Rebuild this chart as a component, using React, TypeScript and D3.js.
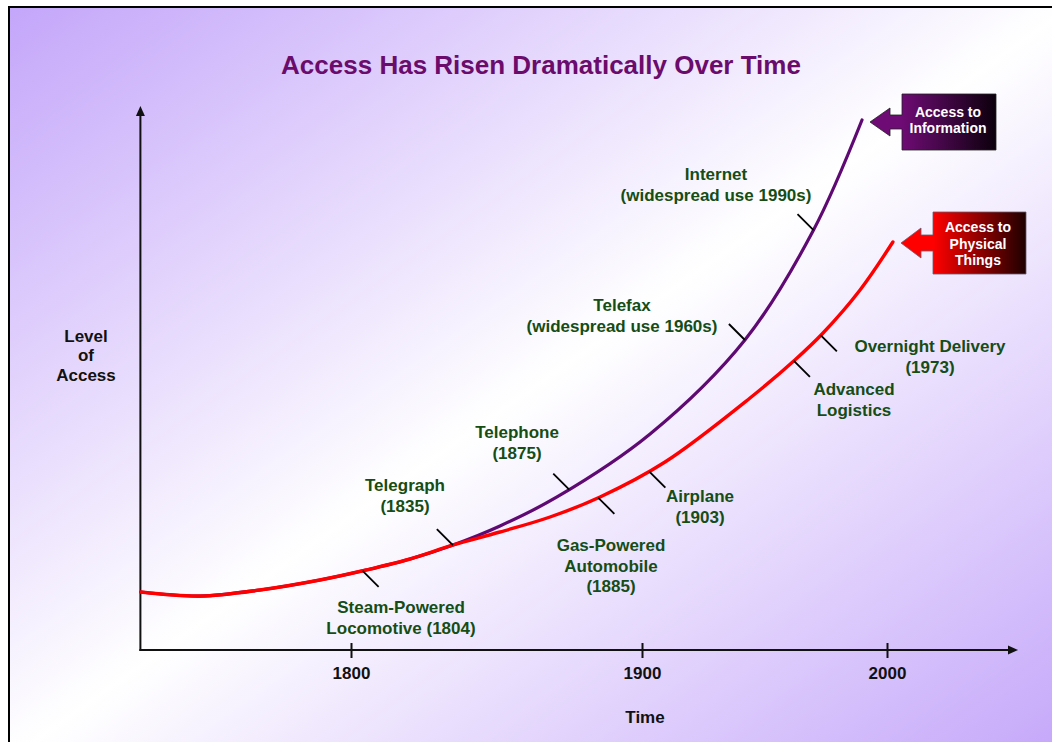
import React, { useEffect, useRef } from "react";
import * as d3 from "d3";

const W = 1052;
const H = 742;

// Early stretch shared by both curves: year and level of access (0–100)
const sharedYears = [1727.8, 1748.1, 1768.7, 1789.3, 1805.2, 1820.3, 1835.1];
const sharedLevels = [10.68, 9.94, 11.05, 12.89, 14.73, 16.76, 19.34];

// Access to information
const informationYears = [1851.2, 1870.8, 1903.3, 1942.0, 1969.8, 1989.8];
const informationLevels = [22.84, 28.18, 39.78, 57.09, 77.16, 97.61];

// Access to physical things
const physicalYears = [1851.2, 1868.4, 1885.6, 1909.4, 1944.1, 1962.4, 1973.9, 1989.0, 2002.4];
const physicalLevels = [21.73, 24.49, 28.18, 34.62, 46.41, 53.41, 58.38, 66.3, 75.14];

// Axis ticks
const tickYears = [1800, 1900, 2000];

// Milestones along the curves
const milestoneLines = [
  ["Steam-Powered", "Locomotive (1804)"],
  ["Telegraph", "(1835)"],
  ["Telephone", "(1875)"],
  ["Gas-Powered", "Automobile", "(1885)"],
  ["Airplane", "(1903)"],
  ["Advanced", "Logistics"],
  ["Overnight Delivery", "(1973)"],
  ["Telefax", "(widespread use 1960s)"],
  ["Internet", "(widespread use 1990s)"],
];
const milestoneYears = [1804, 1835, 1875, 1885, 1903, 1962, 1973, 1942, 1970];
const milestoneSeries = [
  "physical", "physical", "information", "physical", "physical",
  "physical", "physical", "information", "information",
];

// Series callouts
const calloutLines = [["Access to", "Information"], ["Access to", "Physical", "Things"]];

// Label placement: [centre x, first baseline, tick side (+1 below-right, -1 above-left)]
const milestoneLayout: [number, number, number][] = [
  [401, 613, 1],
  [405, 491, -1],
  [517, 438, -1],
  [611, 551, 1],
  [700, 502, 1],
  [854, 395, 1],
  [930, 352, 1],
  [622, 311, -1],
  [716, 180, -1],
];

const FONT = "'Liberation Sans', Arial, Helvetica, sans-serif";
const GREEN = "#154d15";
const PURPLE = "#5f0a73";
const RED = "#ff0000";

function pointAtX(path: SVGPathElement, tx: number) {
  let lo = 0;
  let hi = path.getTotalLength();
  for (let i = 0; i < 40; i++) {
    const mid = (lo + hi) / 2;
    if (path.getPointAtLength(mid).x < tx) lo = mid;
    else hi = mid;
  }
  return path.getPointAtLength((lo + hi) / 2);
}

export default function App() {
  const ref = useRef<SVGSVGElement>(null);

  useEffect(() => {
    const svg = d3.select(ref.current);
    svg.selectAll("*").remove();

    const x = d3.scaleLinear().domain([1800, 1900, 2000]).range([351, 642, 887]);
    const y = d3.scaleLinear().domain([0, 100]).range([650, 107]);

    const defs = svg.append("defs");
    const bg = defs.append("linearGradient").attr("id", "bg")
      .attr("x1", 0).attr("y1", 0).attr("x2", 1).attr("y2", 1);
    bg.append("stop").attr("offset", 0).attr("stop-color", "#c4a6fa");
    bg.append("stop").attr("offset", 0.5).attr("stop-color", "#ffffff");
    bg.append("stop").attr("offset", 1).attr("stop-color", "#c4a6fa");

    // Framed slide background
    svg.append("rect")
      .attr("x", 9).attr("y", 7).attr("width", W + 10).attr("height", H + 10)
      .attr("fill", "url(#bg)").attr("stroke", "#000").attr("stroke-width", 2);

    // Title
    svg.append("text")
      .attr("x", 541).attr("y", 74).attr("text-anchor", "middle")
      .attr("font-family", FONT).attr("font-weight", "bold").attr("font-size", 26)
      .attr("fill", "#6b0b6b")
      .text("Access Has Risen Dramatically Over Time");

    // Axes
    const x0 = x(sharedYears[0]) - 0.5;
    const axisG = svg.append("g").attr("stroke", "#111").attr("fill", "#111");
    axisG.append("line").attr("x1", x0).attr("x2", x0).attr("y1", 651).attr("y2", 112).attr("stroke-width", 2);
    axisG.append("path").attr("d", `M${x0},106L${x0 - 4.5},116L${x0 + 4.5},116Z`).attr("stroke", "none");
    axisG.append("line").attr("x1", x0 - 1).attr("x2", 1010).attr("y1", 650).attr("y2", 650).attr("stroke-width", 2);
    axisG.append("path").attr("d", `M1018,650L1008,645.5L1008,654.5Z`).attr("stroke", "none");

    const ax = svg.append("g").attr("transform", "translate(0,650)")
      .call(d3.axisBottom(x).tickValues(tickYears).tickFormat(d3.format("d")).tickSizeOuter(0));
    ax.select(".domain").remove();
    ax.selectAll(".tick line").attr("y1", -7).attr("y2", 8).attr("stroke", "#111").attr("stroke-width", 2);
    ax.selectAll(".tick text")
      .attr("y", 29).attr("dy", null)
      .attr("font-family", FONT).attr("font-weight", "bold").attr("font-size", 17).attr("fill", "#111");

    svg.append("text")
      .attr("x", 645).attr("y", 723).attr("text-anchor", "middle")
      .attr("font-family", FONT).attr("font-weight", "bold").attr("font-size", 17).attr("fill", "#111")
      .text("Time");

    const yTitle = svg.append("text")
      .attr("text-anchor", "middle")
      .attr("font-family", FONT).attr("font-weight", "bold").attr("font-size", 17).attr("fill", "#111");
    ["Level", "of", "Access"].forEach((t, i) => {
      yTitle.append("tspan").attr("x", 86).attr("y", 342 + i * 19.3).text(t);
    });

    // Curves
    const line = d3.line<[number, number]>()
      .x((d) => x(d[0])).y((d) => y(d[1]))
      .curve(d3.curveCatmullRom.alpha(0.5));

    const shared: [number, number][] = sharedYears.map((yr, i) => [yr, sharedLevels[i]]);
    const info: [number, number][] = shared.concat(informationYears.map((yr, i) => [yr, informationLevels[i]] as [number, number]));
    const phys: [number, number][] = shared.concat(physicalYears.map((yr, i) => [yr, physicalLevels[i]] as [number, number]));

    const infoPath = svg.append("path").datum(info).attr("d", line)
      .attr("fill", "none").attr("stroke", PURPLE).attr("stroke-width", 3.2).attr("stroke-linecap", "round");
    const physPath = svg.append("path").datum(phys).attr("d", line)
      .attr("fill", "none").attr("stroke", RED).attr("stroke-width", 3.4).attr("stroke-linecap", "round");

    const paths: Record<string, SVGPathElement> = {
      information: infoPath.node() as SVGPathElement,
      physical: physPath.node() as SVGPathElement,
    };

    // Milestone ticks and labels
    milestoneYears.forEach((yr, i) => {
      const [cx, by, side] = milestoneLayout[i];
      const p = pointAtX(paths[milestoneSeries[i]], x(yr));
      svg.append("line")
        .attr("x1", p.x).attr("y1", p.y)
        .attr("x2", p.x + side * 16).attr("y2", p.y + side * 16)
        .attr("stroke", "#000").attr("stroke-width", 1.8);
      const t = svg.append("text")
        .attr("text-anchor", "middle")
        .attr("font-family", FONT).attr("font-weight", "bold").attr("font-size", 17).attr("fill", GREEN);
      milestoneLines[i].forEach((s, j) => {
        t.append("tspan").attr("x", cx).attr("y", by + j * 20.5).text(s);
      });
    });

    // Callouts naming each curve
    const callouts = [
      { tipX: 870, tipY: 122, headX: 890, headH: 14, shaftH: 7, left: 902, right: 996, top: 94, bottom: 150,
        from: "#6e0b74", to: "#0c000c", stroke: "#222", lines: calloutLines[0], tx: 948, ty: 116.5, lh: 16.7 },
      { tipX: 901, tipY: 243, headX: 921, headH: 15, shaftH: 8, left: 933, right: 1026, top: 212, bottom: 274,
        from: "#ff0000", to: "#1e0000", stroke: "#6a5a6a", lines: calloutLines[1], tx: 978, ty: 232, lh: 16.5 },
    ];
    callouts.forEach((c, i) => {
      const g = defs.append("linearGradient").attr("id", `co${i}`)
        .attr("gradientUnits", "userSpaceOnUse")
        .attr("x1", c.left).attr("y1", 0).attr("x2", c.right).attr("y2", 0);
      g.append("stop").attr("offset", 0).attr("stop-color", c.from);
      g.append("stop").attr("offset", 1).attr("stop-color", c.to);
      const d = [
        `M${c.tipX},${c.tipY}`,
        `L${c.headX},${c.tipY - c.headH}`,
        `L${c.headX},${c.tipY - c.shaftH}`,
        `L${c.left},${c.tipY - c.shaftH}`,
        `L${c.left},${c.top}`,
        `L${c.right},${c.top}`,
        `L${c.right},${c.bottom}`,
        `L${c.left},${c.bottom}`,
        `L${c.left},${c.tipY + c.shaftH}`,
        `L${c.headX},${c.tipY + c.shaftH}`,
        `L${c.headX},${c.tipY + c.headH}`,
        "Z",
      ].join("");
      svg.append("path").attr("d", d).attr("fill", `url(#co${i})`)
        .attr("stroke", c.stroke).attr("stroke-width", 0.8);
      const t = svg.append("text").attr("text-anchor", "middle")
        .attr("font-family", FONT).attr("font-weight", "bold").attr("font-size", 14).attr("fill", "#fff");
      c.lines.forEach((s, j) => {
        t.append("tspan").attr("x", c.tx).attr("y", c.ty + j * c.lh).text(s);
      });
    });
  }, []);

  return (
    <svg
      ref={ref}
      width={W}
      height={H}
      style={{ position: "absolute", left: 0, top: 0, display: "block" }}
    />
  );
}
